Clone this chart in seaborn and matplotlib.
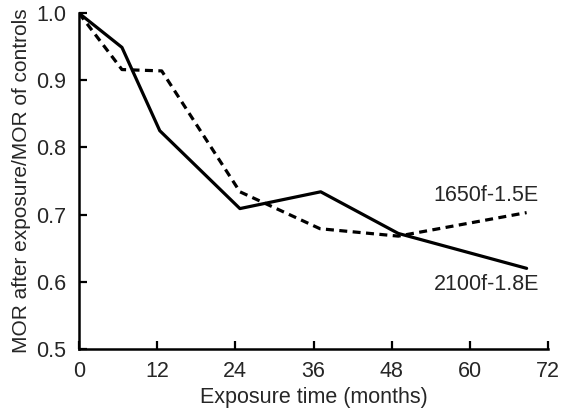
import matplotlib
matplotlib.use("Agg")
import matplotlib.pyplot as plt
import seaborn as sns
import pandas as pd

months_solid = [0, 6.6, 12.4, 24.7, 37.1, 49.0, 68.7]
mor_solid = [1.0, 0.949, 0.825, 0.709, 0.734, 0.672, 0.620]
months_dashed = [0, 6.6, 12.7, 24.7, 37.0, 49.0, 68.7]
mor_dashed = [1.0, 0.916, 0.914, 0.734, 0.679, 0.668, 0.703]
label_solid = "2100f-1.8E"
label_dashed = "1650f-1.5E"
xticks = [0, 12, 24, 36, 48, 60, 72]
yticks = [0.5, 0.6, 0.7, 0.8, 0.9, 1.0]

sns.set_style("ticks")
plt.rcParams['font.family'] = ['Liberation Sans', 'DejaVu Sans']

df_s = pd.DataFrame({"t": months_solid, "m": mor_solid})
df_d = pd.DataFrame({"t": months_dashed, "m": mor_dashed})

fig = plt.figure(figsize=(5.68, 4.11), dpi=100)
ax = fig.add_axes([0.139, 0.151, 0.826, 0.817])

sns.lineplot(data=df_s, x="t", y="m", ax=ax, color="black", linewidth=2.3, sort=False)
sns.lineplot(data=df_d, x="t", y="m", ax=ax, color="black", linewidth=2.3, sort=False,
             linestyle=(0, (2.5, 1.7)))

ax.set_xlim(0, 72)
ax.set_ylim(0.5, 1.0)
ax.set_xticks(xticks)
ax.set_yticks(yticks)
ax.set_xticklabels([str(v) for v in xticks])
ax.set_yticklabels([f"{v:.1f}" for v in yticks])
ax.tick_params(direction="in", length=6, width=1.6, labelsize=15.5, color="black")
ax.tick_params(axis="x", pad=9)
ax.tick_params(axis="y", pad=9)
for s in ["top", "right"]:
    ax.spines[s].set_visible(False)
for s in ["left", "bottom"]:
    ax.spines[s].set_linewidth(1.8)
    ax.spines[s].set_color("black")

ax.set_xlabel("Exposure time (months)", fontsize=15.5, labelpad=3)
ax.set_ylabel("MOR after exposure/MOR of controls", fontsize=15, labelpad=4)

ax.text(54.4, 0.728, label_dashed, fontsize=15.5, va="center", ha="left")
ax.text(54.4, 0.596, label_solid, fontsize=15.5, va="center", ha="left")

fig.savefig("out.png", dpi=100)
